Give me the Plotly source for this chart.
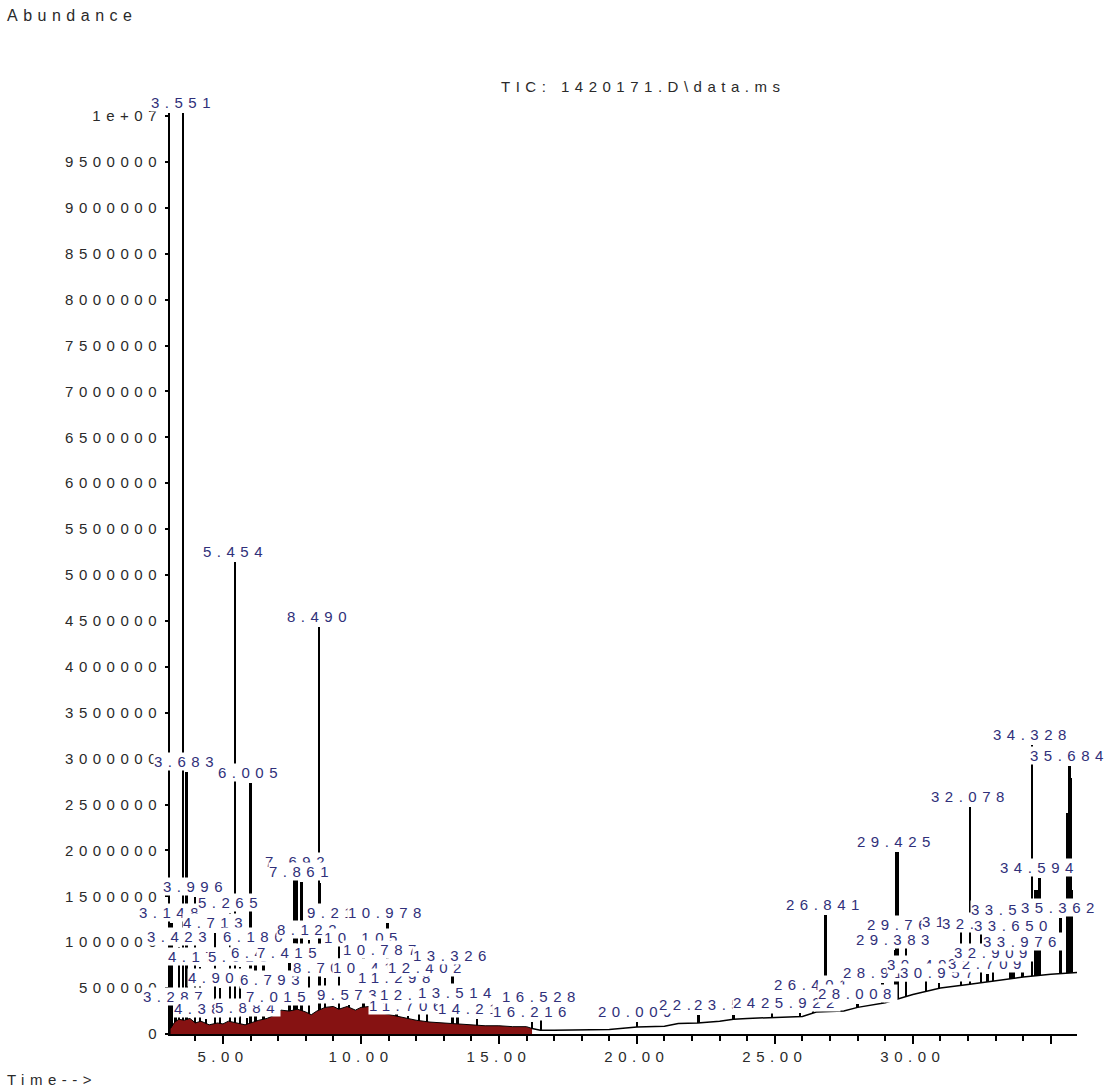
import plotly.graph_objects as go

# ---------------- data ----------------
# labelled peaks: retention time (min) and apex abundance
peak_times = [3.148, 3.287, 3.423, 3.551, 3.683, 3.996, 4.172, 4.385, 4.713, 4.906,
              5.265, 5.454, 5.618, 5.884, 6.005, 6.186, 6.472, 6.793, 7.015, 7.415,
              7.692, 7.861, 8.122, 8.490, 8.705, 9.210, 9.573, 10.105, 10.415, 10.787,
              10.978, 11.298, 11.706, 12.116, 12.402, 13.326, 13.514, 14.215, 16.216, 16.528,
              20.009, 22.236, 23.512, 24.906, 25.922, 26.401, 26.841, 28.008, 28.917, 29.383,
              29.425, 29.763, 30.492, 30.957, 31.760, 32.078, 32.473, 32.709, 32.909, 33.546,
              33.650, 33.976, 34.328, 34.594, 35.362, 35.684]
peak_heights = [1210000, 295000, 950000, 10030000, 2850000, 1490000, 730000, 160000, 1100000, 500000,
                1320000, 5140000, 730000, 175000, 2730000, 950000, 775000, 480000, 295000, 775000,
                1760000, 1660000, 1020000, 4430000, 610000, 1210000, 316000, 935000, 610000, 805000,
                1210000, 500000, 200000, 316000, 610000, 740000, 338000, 160000, 130000, 295000,
                130000, 207000, 207000, 229000, 229000, 425000, 1300000, 330000, 556000, 915000,
                1980000, 1078000, 643000, 560000, 1111000, 2473000, 1089000, 650000, 773000, 1242000,
                1067000, 893000, 3148000, 1699000, 1264000, 2919000]

# unlabelled shoulder peaks
shoulder_times = [3.715, 7.600, 7.640, 8.530, 29.460, 34.450, 34.520, 35.620, 35.720, 35.760]
shoulder_heights = [2530000, 1700000, 1700000, 1640000, 1980000, 1570000, 1570000, 2410000, 2790000, 1570000]

# integrated (shaded) baseline region
shade_times = [3.10, 3.25, 3.40, 3.60, 3.80, 4.00, 4.20, 4.50, 4.80, 5.00, 5.20, 5.50, 5.80, 6.00,
               6.30, 6.60, 6.90, 7.10, 7.40, 7.70, 8.00, 8.20, 8.40, 8.70, 9.00, 9.20, 9.50, 9.80,
               10.00, 10.30, 10.60, 10.90, 11.20, 11.60, 12.00, 12.50, 13.00, 13.50, 14.00, 14.50,
               15.00, 15.50, 16.00, 16.20]
shade_values = [60000, 130000, 160000, 150000, 170000, 120000, 140000, 100000, 120000, 110000,
                140000, 120000, 100000, 120000, 150000, 170000, 210000, 260000, 250000, 270000,
                240000, 210000, 250000, 290000, 300000, 270000, 300000, 260000, 290000, 300000,
                250000, 220000, 200000, 170000, 150000, 130000, 120000, 110000, 100000, 90000,
                90000, 80000, 80000, 60000]

# later baseline (column bleed)
base_times = [16.20, 16.50, 17.00, 18.00, 19.00, 20.00, 21.00, 21.50, 22.20, 23.00, 23.50, 24.00,
              25.00, 26.00, 26.50, 27.50, 28.00, 29.00, 30.00, 31.00, 32.00, 33.00, 34.00, 35.00, 35.95]
base_values = [60000, 40000, 40000, 45000, 50000, 76000, 85000, 115000, 120000, 140000, 160000,
               170000, 180000, 190000, 240000, 250000, 290000, 340000, 430000, 500000, 540000,
               580000, 620000, 650000, 670000]

x_tick_vals = [5, 10, 15, 20, 25, 30, 35]
x_tick_text = ["5.00", "10.00", "15.00", "20.00", "25.00", "30.00", ""]
y_tick_vals = [0, 500000, 1000000, 1500000, 2000000, 2500000, 3000000, 3500000, 4000000,
               4500000, 5000000, 5500000, 6000000, 6500000, 7000000, 7500000, 8000000,
               8500000, 9000000, 9500000, 10000000]
y_tick_text = ["0", "500000", "1000000", "1500000", "2000000", "2500000", "3000000", "3500000",
               "4000000", "4500000", "5000000", "5500000", "6000000", "6500000", "7000000",
               "7500000", "8000000", "8500000", "9000000", "9500000", "1e+07"]

title_text = "TIC: 1420171.D\\data.ms"
y_title = "Abundance"
x_title = "Time-->"

# ---------------- figure ----------------
FONT = "Liberation Sans, Arial, sans-serif"
LABEL_COLOR = "#30307a"
AXIS_COLOR = "#2a2a2a"

fig = go.Figure()

# peaks (drawn first so the baseline fills hide their part below the baseline)
fig.add_trace(go.Bar(
    x=peak_times + shoulder_times, y=peak_heights + shoulder_heights,
    width=0.07, marker=dict(color="black", line=dict(width=0)), hoverinfo="skip"))

fig.add_trace(go.Scatter(
    x=base_times, y=base_values, mode="lines", fill="tozeroy",
    fillcolor="white", line=dict(color="black", width=1.5), hoverinfo="skip"))

fig.add_trace(go.Scatter(
    x=shade_times, y=shade_values, mode="lines", fill="tozeroy",
    fillcolor="#861212", line=dict(color="black", width=1), hoverinfo="skip"))

annotations = []
for t, h in zip(peak_times, peak_heights):
    annotations.append(dict(
        x=t, y=h, xref="x", yref="y", text=f"{t:.3f}", showarrow=False,
        xanchor="center", yanchor="bottom", yshift=1,
        bgcolor="white", borderpad=0,
        font=dict(family=FONT, size=15, color=LABEL_COLOR)))

annotations.append(dict(
    x=0.5215, y=1.0293, xref="paper", yref="paper", text=title_text, showarrow=False,
    xanchor="center", yanchor="middle", font=dict(family=FONT, size=15, color=AXIS_COLOR)))
annotations.append(dict(
    x=-0.1819, y=1.1064, xref="paper", yref="paper", text=y_title, showarrow=False,
    xanchor="left", yanchor="middle", font=dict(family=FONT, size=16, color=AXIS_COLOR)))
annotations.append(dict(
    x=-0.1819, y=-0.0499, xref="paper", yref="paper", text=x_title, showarrow=False,
    xanchor="left", yanchor="middle", font=dict(family=FONT, size=15, color=AXIS_COLOR)))

fig.update_layout(
    template="none",
    width=1105, height=1090,
    margin=dict(l=170, r=28, t=113, b=56),
    paper_bgcolor="white", plot_bgcolor="white",
    showlegend=False,
    bargap=0,
    font=dict(family=FONT, size=15, color=AXIS_COLOR),
    annotations=annotations,
    xaxis=dict(
        range=[3.08, 35.95], showgrid=False, zeroline=False,
        showline=True, linecolor="black", linewidth=2, layer="above traces",
        tickmode="array", tickvals=x_tick_vals, ticktext=x_tick_text,
        ticks="outside", ticklen=8, tickwidth=2, tickcolor="black",
        tickfont=dict(family=FONT, size=15, color=AXIS_COLOR),
        minor=dict(tickmode="linear", tick0=0, dtick=1, ticks="outside",
                   ticklen=5, tickwidth=1.5, tickcolor="black", showgrid=False)),
    yaxis=dict(
        range=[0, 10033000], showgrid=False, zeroline=False,
        showline=True, linecolor="black", linewidth=2, layer="above traces",
        tickmode="array", tickvals=y_tick_vals, ticktext=y_tick_text,
        ticks="outside", ticklen=3, tickwidth=1.5, tickcolor="black",
        tickfont=dict(family=FONT, size=15, color=AXIS_COLOR)),
)

# widen letter spacing like the instrument printout, then redraw so label boxes are re-measured
post = """
var gd = document.getElementById('{plot_id}');
var st = document.createElement('style');
st.textContent = '.js-plotly-plot text, #js-plotly-tester text {letter-spacing: 5.5px;}';
document.head.appendChild(st);
var lay = JSON.parse(JSON.stringify(gd.layout).replace(/"size":(\\d+)([,}])/g, '"size":$1.01$2'));
Plotly.newPlot(gd, gd.data, lay, {displayModeBar: false});
"""

fig.write_html("out.html", config={"displayModeBar": False}, post_script=post)
